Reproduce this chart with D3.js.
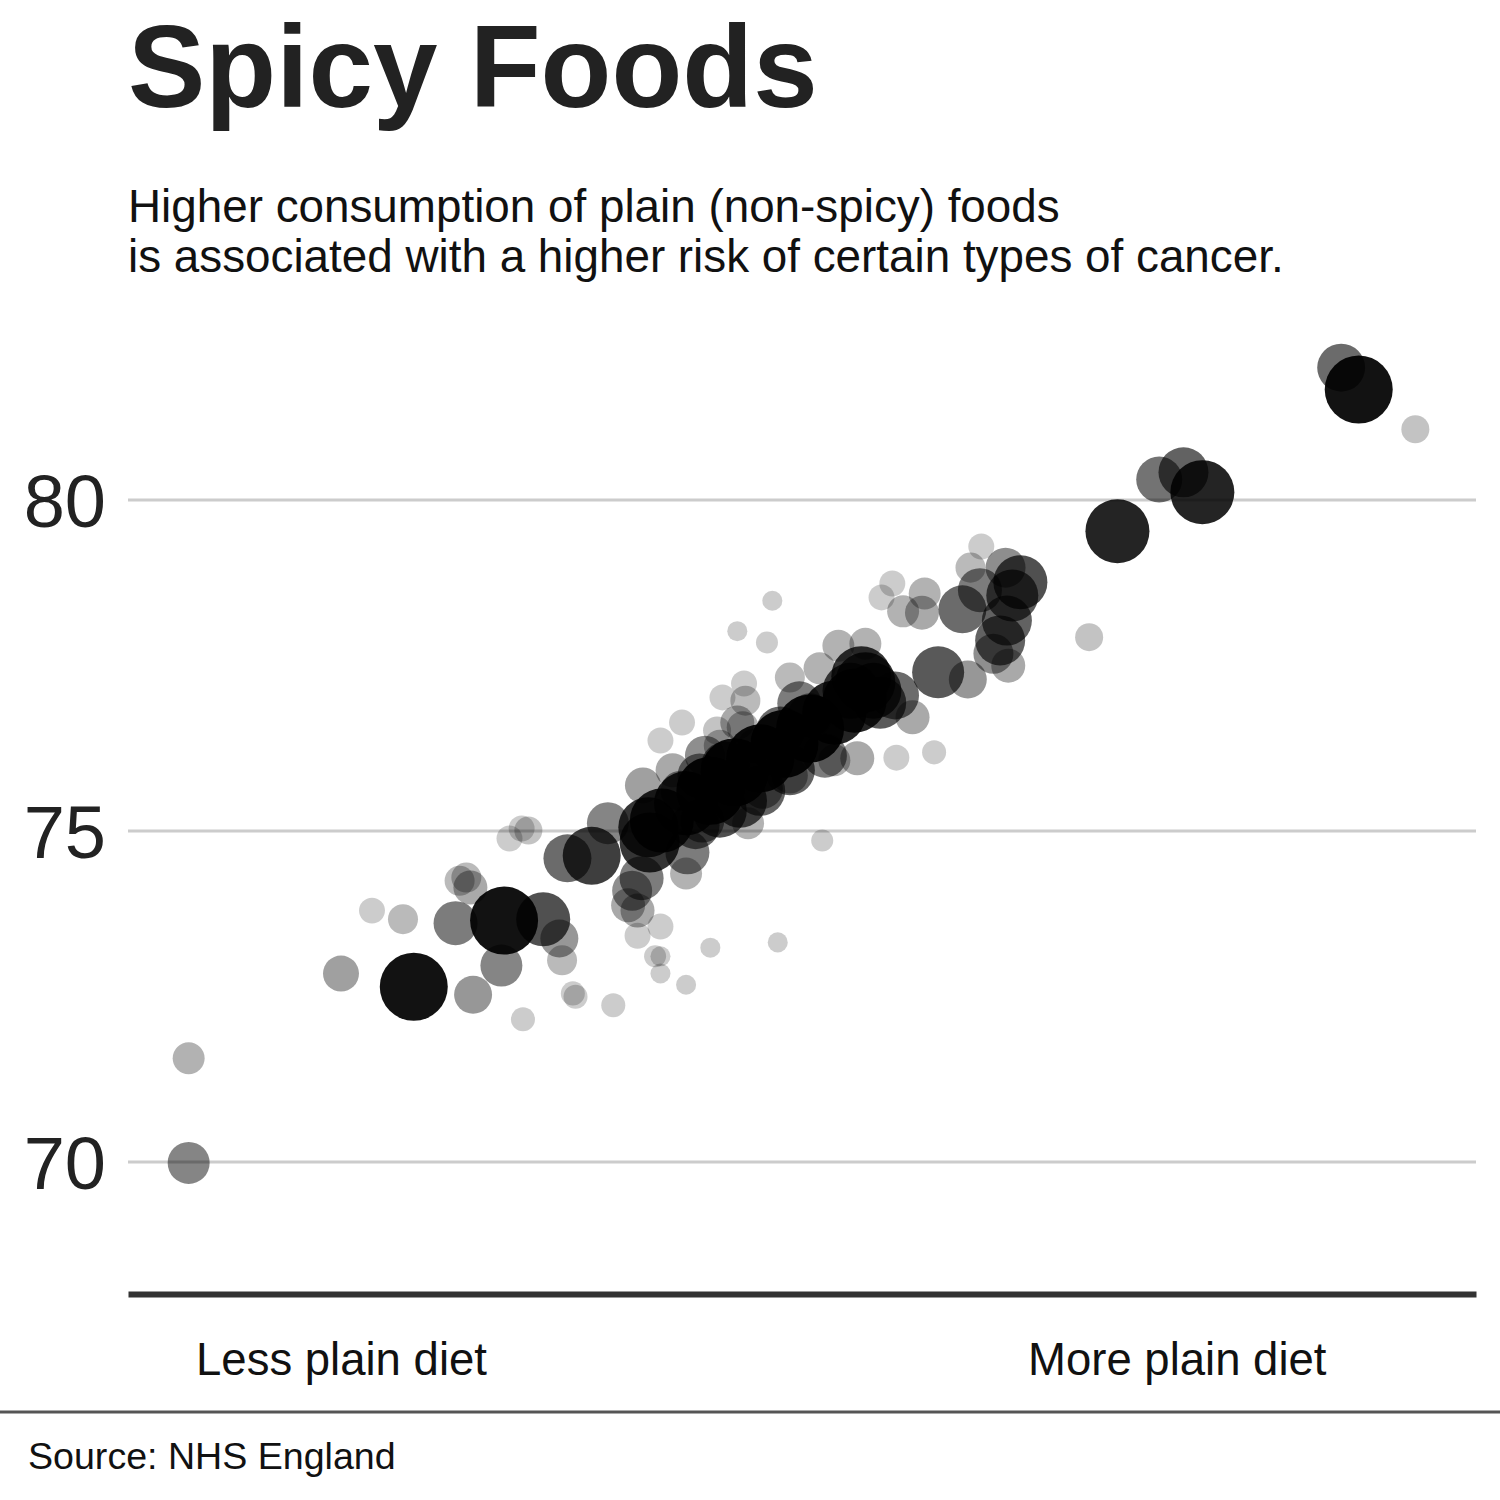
<!DOCTYPE html>
<html><head><meta charset="utf-8">
<script src="https://cdn.jsdelivr.net/npm/d3@7"></script>
<style>
body{margin:0;background:#fff}
svg{display:block;font-family:"Liberation Sans",Arial,sans-serif}
</style>
</head><body><svg id="chart" width="1500" height="1500"></svg>
<script>
const titleText = "Spicy Foods";
const subtitleLines = [
  "Higher consumption of plain (non-spicy) foods",
  "is associated with a higher risk of certain types of cancer."
];
const sourceText = "Source: NHS England";
const yTicks = [70, 75, 80];
const xLabels = ["Less plain diet", "More plain diet"];
const xLabelPos = [15.8, 77.8];

// plain-diet index (no unit shown), life expectancy, population (thousands)
const plainIndex = [
  4.5,4.5,15.8,18.1,20.4,21.2,24.3,27.9,30.8,25.6,27.7,29.3,32.0,32.2,33.0,33.2,
  24.6,25.1,25.4,28.3,29.2,29.7,32.6,34.4,36.0,35.6,38.6,38.7,41.5,41.4,38.1,37.4,
  37.1,37.8,37.8,39.5,39.1,39.5,39.5,41.4,43.2,48.2,51.5,46.0,38.2,42.6,47.1,47.8,
  45.2,47.4,41.1,39.5,44.1,45.7,45.8,43.7,45.2,45.6,49.1,51.3,52.7,54.7,49.8,55.3,
  55.8,58.2,60.1,62.3,57.0,59.8,54.1,40.4,56.9,54.4,56.7,55.9,57.5,59.1,58.9,63.3,
  62.5,65.1,66.2,65.6,63.2,61.9,65.2,64.7,64.2,65.3,71.3,90.0,91.3,95.5,76.5,78.3,
  79.7,73.4,
  39.6,41.4,43.2,45.0,46.9,48.7,50.6,52.4,53.9,54.7,53.6,
  42.4,44.3,45.4,46.9,48.4,50.6,51.7,43.9,41.0,42.8,46.5,52.4,43.9,49.1,42.1,49.1
];
const lifeExp = [
  71.56,69.98,72.84,73.79,73.66,72.64,73.60,73.64,73.66,72.52,72.96,72.15,73.37,73.04,72.54,72.49,
  74.24,74.29,74.14,74.88,75.03,75.00,74.58,74.62,72.36,75.11,75.05,74.82,74.67,74.35,74.28,74.09,
  73.87,73.79,73.41,73.55,73.10,73.10,72.84,72.67,73.23,73.31,74.85,75.11,75.68,75.15,75.63,78.47,
  78.01,77.84,76.63,76.36,77.01,77.22,76.96,76.51,76.63,76.56,77.31,77.45,77.79,77.82,76.92,77.11,
  76.93,76.71,77.39,77.28,76.10,76.18,76.09,75.91,77.04,77.33,78.73,78.52,78.31,78.58,78.29,79.29,
  78.97,78.97,78.75,78.55,78.63,78.34,78.17,77.87,77.67,77.49,77.92,81.99,81.66,81.06,80.30,80.41,
  80.11,79.52,
  75.15,75.41,75.60,75.88,76.09,76.31,76.54,76.78,76.96,77.24,77.11,
  75.83,75.98,75.45,75.60,76.51,76.74,76.13,75.30,75.60,76.13,76.28,76.06,76.28,75.83,75.08,75.91
];
const population = [
  221,381,280,146,195,1000,419,1000,631,312,381,125,312,195,125,125,
  195,195,250,146,146,170,498,727,125,381,779,779,419,221,419,346,
  250,250,146,146,105,87,87,87,87,87,105,221,280,419,346,87,
  87,105,146,146,146,146,195,170,250,221,195,221,221,221,419,678,
  585,250,585,312,146,125,250,250,498,779,146,146,221,221,250,146,
  195,346,631,585,419,498,541,541,346,250,170,498,1000,170,458,541,
  886,886,
  886,886,1000,1000,1000,1000,1000,886,886,779,678,
  419,498,631,541,498,419,419,631,346,346,250,221,221,280,498,541
];

const W = 1500, H = 1500;
const plot = {left: 128, right: 1476, top: 367, bottom: 1294};
const svg = d3.select("#chart");
svg.append("rect").attr("width", W).attr("height", H).attr("fill", "#fff");

const x = d3.scaleLinear().domain([0, 100]).range([plot.left, plot.right]);
const y = d3.scaleLinear().domain([68, 82]).range([plot.bottom, plot.top]);
const r = d3.scaleSqrt().domain([0, 1000]).range([0, 34]);
const op = d3.scaleLinear().domain([13, 34]).range([0.2, 0.93]).clamp(true);

// title & subtitle
svg.append("text").attr("x", 128).attr("y", 107)
  .attr("font-size", 116).attr("font-weight", "bold").attr("fill", "#222")
  .text(titleText);
svg.append("g").selectAll("text").data(subtitleLines).join("text")
  .attr("x", 128).attr("y", (d, i) => 222 + i * 50)
  .attr("font-size", 45.8).attr("fill", "#111").text(d => d);

// y grid + labels
const yAxis = svg.append("g").attr("transform", `translate(${plot.left},0)`)
  .call(d3.axisLeft(y).tickValues(yTicks).tickSize(-(plot.right - plot.left)).tickPadding(22).tickFormat(d3.format("d")));
yAxis.select(".domain").remove();
yAxis.selectAll(".tick line").attr("stroke", "#ccc").attr("stroke-width", 3);
yAxis.selectAll(".tick text").attr("font-size", 74).attr("fill", "#222")
  .attr("font-family", "Liberation Sans, Arial, sans-serif").attr("dy", "0.36em");

// points
const pts = plainIndex.map((v, i) => ({x: v, y: lifeExp[i], p: population[i]}));
svg.append("g").selectAll("circle").data(pts).join("circle")
  .attr("cx", d => x(d.x)).attr("cy", d => y(d.y)).attr("r", d => r(d.p))
  .attr("fill", "#000").attr("fill-opacity", d => op(r(d.p)));

// x axis
const xAxis = svg.append("g").attr("transform", `translate(0,${plot.bottom})`)
  .call(d3.axisBottom(x).tickValues(xLabelPos).tickSize(0).tickSizeOuter(0).tickPadding(49)
    .tickFormat((d, i) => xLabels[i]));
xAxis.select(".domain").attr("stroke", "#333").attr("stroke-width", 6);
xAxis.selectAll(".tick text").attr("font-size", 45.5).attr("fill", "#111")
  .attr("font-family", "Liberation Sans, Arial, sans-serif");

// footer
svg.append("line").attr("x1", 0).attr("x2", W).attr("y1", 1412).attr("y2", 1412)
  .attr("stroke", "#555").attr("stroke-width", 3);
svg.append("text").attr("x", 28).attr("y", 1469).attr("font-size", 37.6)
  .attr("fill", "#111").text(sourceText);
</script>
</body></html>
